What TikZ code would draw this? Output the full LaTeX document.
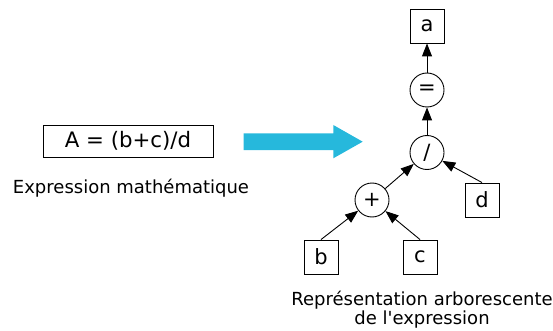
\documentclass[tikz,border=0pt]{standalone}
\usepackage{fontspec}
\setmainfont{DejaVu Sans}
\usetikzlibrary{arrows.meta}
\definecolor{bluearrow}{RGB}{38,184,220}
\begin{document}
\begin{tikzpicture}[x=1pt,y=-1pt,
  leaf/.style={draw,line width=0.9pt,minimum size=34pt,inner sep=0pt,font=\fontsize{21}{23}\selectfont},
  op/.style={draw,circle,line width=0.9pt,minimum size=34pt,inner sep=0pt,font=\fontsize{21}{23}\selectfont},
  link/.style={line width=0.9pt,-{Triangle[length=13pt,width=10pt]}},
  caption/.style={font=\fontsize{18}{19.5}\selectfont,align=center}]
\useasboundingbox (0,0) rectangle (553,331);
\node[draw,line width=0.9pt,minimum width=170pt,minimum height=32pt,inner sep=0pt,font=\fontsize{21.3}{23}\selectfont] (expr) at (128,141) {A = (b+c)/d};
\node[caption] (exprlab) at (131,188) {Expression mathématique};
\fill[bluearrow] (243.5,133.3) -- (333.3,133.3) -- (333.3,125) -- (362.7,141.7) -- (333.3,158.3) -- (333.3,150) -- (243.5,150) -- cycle;
\node[leaf] (a) at (427,26) {a};
\node[op] (eq) at (427,90) {=};
\node[op] (div) at (427,152.5) {/};
\node[op] (plus) at (372,200) {+};
\node[leaf] (d) at (482,200) {d};
\node[leaf] (b) at (321,257) {b};
\node[leaf] (c) at (420,257) {c};
\draw[link] (eq) -- (a);
\draw[link] (div) -- (eq);
\draw[link] (plus) -- (div);
\draw[link] (d.north) -- (div);
\draw[link] (b.north) -- (plus);
\draw[link] (c.north) -- (plus);
\node[caption] (treelab) at (422,309.5) {Représentation arborescente\\de l\textquotesingle expression};
\end{tikzpicture}
\end{document}
